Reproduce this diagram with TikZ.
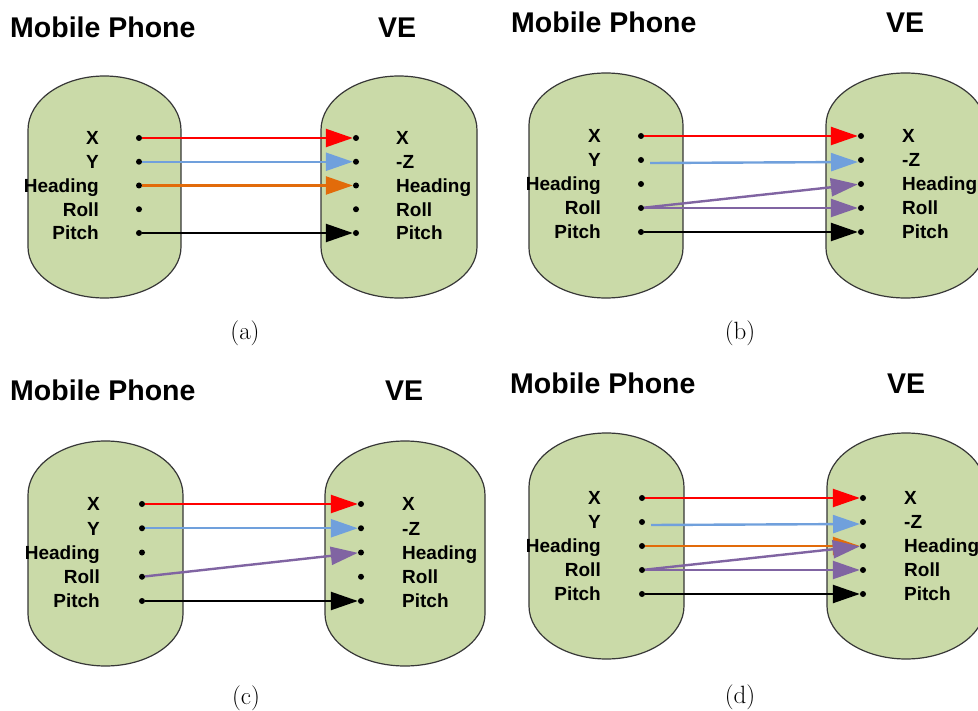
\documentclass[tikz,border=0pt]{standalone}
\usepackage{fontspec}
\newfontfamily\lsans{Liberation Sans}
\usetikzlibrary{arrows.meta}
\definecolor{blobfill}{RGB}{202,218,168}
\definecolor{blobline}{RGB}{55,55,55}
\definecolor{cblue}{RGB}{112,160,220}
\definecolor{corange}{RGB}{226,107,10}
\definecolor{cpurple}{RGB}{128,100,162}
\definecolor{cred}{RGB}{255,0,0}
\tikzset{
  blobst/.style={fill=blobfill, draw=blobline, line width=1.2pt},
  lab/.style={font=\lsans\bfseries\fontsize{19}{19}\selectfont, inner sep=0pt, text height=13.6pt, text depth=0pt},
  ttl/.style={font=\lsans\bfseries\fontsize{28.5}{28.5}\selectfont, inner sep=0pt, text height=20.4pt, text depth=0pt, anchor=west},
  capt/.style={font=\fontsize{25}{25}\selectfont, inner sep=0pt},
  dotn/.style={circle, fill=black, inner sep=0pt, minimum size=6pt},
  arr/.style={line width=2.4pt, -{Triangle[length=27pt,width=18pt]}},
  redarr/.style={arr, cred},
  bluearr/.style={arr, cblue},
  orangearr/.style={arr, corange},
  purparr/.style={arr, cpurple},
  blackarr/.style={arr, black},
}
\newcommand\blob[6]{%
  \pgfmathsetmacro\bxm{(#1+#2)/2}%
  \pgfmathsetmacro\bk{0.5523*(#2-#1)/2}%
  \filldraw[blobst] (#1,#4) .. controls (#1,{#4-0.5523*(#4-#3)}) and ({\bxm-\bk},#3) .. (\bxm,#3)
    .. controls ({\bxm+\bk},#3) and (#2,{#4-0.5523*(#4-#3)}) .. (#2,#4) -- (#2,#5)
    .. controls (#2,{#5+0.5523*(#6-#5)}) and ({\bxm+\bk},#6) .. (\bxm,#6)
    .. controls ({\bxm-\bk},#6) and (#1,{#5+0.5523*(#6-#5)}) .. (#1,#5) -- cycle;}
\newcommand\panel[7]{%
  \foreach \i/\t/\rt in {1/X/X,2/Y/-Z,3/Heading/Heading,4/Roll/Roll,5/Pitch/Pitch}{%
    \pgfmathsetmacro\yy{#6+(\i-1)*#7}%
    \node[lab, anchor=east] (#1-\i-l) at (#2,\yy) {\t};
    \node[dotn] (#1-\i-a) at (#3,\yy) {};
    \node[dotn] (#1-\i-b) at (#4,\yy) {};
    \node[lab, anchor=west] (#1-\i-r) at (#5,\yy) {\rt};
  }}
\begin{document}
\begin{tikzpicture}[x=1pt, y=-1pt]
\useasboundingbox (0,0) rectangle (978,711);
\clip (0,0) rectangle (978,711);
\fill[white] (0,0) rectangle (978,711);

% ---------- (a)
\blob{28}{181}{76}{130}{247}{298}
\blob{321}{477}{76}{130}{247}{298}
\node[ttl] (a-t1) at (10,27) {Mobile Phone};
\node[ttl] (a-t2) at (378,27) {VE};
\panel{a}{99}{139}{356}{396}{138}{23.75}
\node[capt] (a-c) at (245,333) {(a)};
\draw[redarr] (a-1-a) -- (a-1-b);
\draw[bluearr] (a-2-a) -- (a-2-b);
\draw[orangearr] (a-3-a) -- (a-3-b);
\draw[blackarr] (a-5-a) -- (a-5-b);

% ---------- (b)
\blob{529}{683}{73}{125}{248}{298}
\blob{826}{985}{73}{125}{248}{298}
\node[ttl] (b-t1) at (511,22) {Mobile Phone};
\node[ttl] (b-t2) at (886,22) {VE};
\panel{b}{601}{641}{861}{902}{136}{24}
\node[capt] (b-c) at (740,333) {(b)};
\coordinate (b-ys) at ([xshift=9pt,yshift=-3pt]b-2-a.center);
\coordinate (b-ye) at ([xshift=-3pt,yshift=-2pt]b-2-b.center);
\draw[redarr] (b-1-a) -- (b-1-b);
\draw[bluearr] (b-ys) -- (b-ye);
\draw[purparr] (b-4-a) -- (b-3-b);
\draw[purparr] (b-4-a) -- (b-4-b);
\draw[blackarr] (b-5-a) -- (b-5-b);

% ---------- (c)
\blob{28}{183}{441}{495}{614}{666}
\blob{325}{485}{441}{495}{614}{666}
\node[ttl] (c-t1) at (10,390) {Mobile Phone};
\node[ttl] (c-t2) at (385,390) {VE};
\panel{c}{100}{142}{361}{402}{504}{24.25}
\node[capt] (c-c) at (246,698) {(c)};
\draw[redarr] (c-1-a) -- (c-1-b);
\draw[bluearr] (c-2-a) -- (c-2-b);
\draw[purparr] (c-4-a) -- (c-3-b);
\draw[blackarr] (c-5-a) -- (c-5-b);

% ---------- (d)
\blob{529}{684}{433}{487}{606}{659}
\blob{827}{985}{433}{487}{606}{659}
\node[ttl] (d-t1) at (510,383) {Mobile Phone};
\node[ttl] (d-t2) at (887,383) {VE};
\panel{d}{601}{642}{863}{904}{498}{24}
\node[capt] (d-c) at (740,697) {(d)};
\coordinate (d-ys) at ([xshift=9pt,yshift=-3pt]d-2-a.center);
\coordinate (d-ye) at ([xshift=-3pt,yshift=-2pt]d-2-b.center);
\draw[redarr] (d-1-a) -- (d-1-b);
\draw[bluearr] (d-ys) -- (d-ye);
\draw[orangearr] (d-3-a) -- (d-3-b);
\draw[purparr] (d-4-a) -- (d-3-b);
\draw[purparr] (d-4-a) -- (d-4-b);
\draw[blackarr] (d-5-a) -- (d-5-b);
\end{tikzpicture}
\end{document}
